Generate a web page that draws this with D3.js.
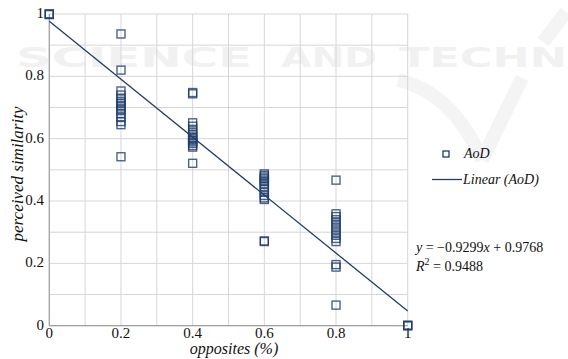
<!DOCTYPE html>
<meta charset="utf-8">
<html>
<head>
	<script src="https://d3js.org/d3.v7.min.js"></script>
	<style>
		body { margin: 0; background: #fff; }
		.serif { font-family: "Liberation Serif"; }
	</style>
</head>
<body>
	<div id="chart"></div>
	<script>
	// measured values, one array per "opposites" level
	var oppositeLevels = [0, 0.2, 0.4, 0.6, 0.8, 1];
	var simAt00 = [1, 1, 0.998];
	var simAt02 = [0.936, 0.82, 0.753, 0.74, 0.73, 0.72, 0.712, 0.705, 0.698, 0.69, 0.68, 0.668, 0.655, 0.645, 0.542];
	var simAt04 = [0.748, 0.744, 0.651, 0.64, 0.63, 0.62, 0.612, 0.605, 0.6, 0.595, 0.59, 0.585, 0.578, 0.573, 0.521];
	var simAt06 = [0.487, 0.482, 0.477, 0.472, 0.467, 0.462, 0.455, 0.447, 0.438, 0.428, 0.418, 0.41, 0.405, 0.272, 0.27];
	var simAt08 = [0.467, 0.359, 0.35, 0.34, 0.33, 0.32, 0.31, 0.3, 0.29, 0.28, 0.27, 0.196, 0.188, 0.066];
	var simAt10 = [0, 0, 0.002];
	var simByLevel = [simAt00, simAt02, simAt04, simAt06, simAt08, simAt10];

	var xTicks = [0, 0.2, 0.4, 0.6, 0.8, 1];
	var yTicks = [0, 0.2, 0.4, 0.6, 0.8, 1];
	var xTickLabels = ["0", "0.2", "0.4", "0.6", "0.8", "1"];
	var yTickLabels = ["0", "0.2", "0.4", "0.6", "0.8", "1"];
	var gridSteps = [0, 0.1, 0.2, 0.3, 0.4, 0.5, 0.6, 0.7, 0.8, 0.9, 1];

	var slope = -0.9299, intercept = 0.9768, rSquared = 0.9488;

	var svgWidth = 568, svgHeight = 359;
	var markColor = "#1f3d6d";
	var serif = "Liberation Serif";

	var x = d3.scaleLinear().domain([0, 1]).range([49.3, 407.7]);
	var y = d3.scaleLinear().domain([0, 1]).range([325.7, 14]);

	var svg = d3.select("#chart").append("svg")
		.attr("width", svgWidth)
		.attr("height", svgHeight)
		.attr("font-family", serif);

	// faint watermark in the background
	var wm = svg.append("g").attr("class", "watermark");
	wm.append("path")
		.attr("d", "M398,80 Q452,92 482,160 M522,78 L482,160 M566,12 L543,42")
		.attr("fill", "none").attr("stroke", "#f4f4f4").attr("stroke-width", 14);
	[["SCIENCE", 16, 236], ["AND", 281, 96], ["TECHN", 399, 168]].forEach(function(w) {
		wm.append("text")
			.attr("x", w[1]).attr("y", 67)
			.attr("textLength", w[2]).attr("lengthAdjust", "spacingAndGlyphs")
			.attr("font-family", "DejaVu Sans").attr("font-weight", "bold")
			.attr("font-size", 27).attr("fill", "#f1f1f1")
			.text(w[0]);
	});

	// grid
	var grid = svg.append("g").attr("class", "grid");
	grid.selectAll(".vgrid").data(gridSteps).enter().append("line")
		.attr("x1", function(d) { return x(d); }).attr("x2", function(d) { return x(d); })
		.attr("y1", y(1)).attr("y2", y(0))
		.attr("stroke", "#d6d6d6").attr("stroke-width", 1);
	grid.selectAll(".hgrid").data(gridSteps).enter().append("line")
		.attr("x1", x(0)).attr("x2", x(1))
		.attr("y1", function(d) { return y(d); }).attr("y2", function(d) { return y(d); })
		.attr("stroke", "#d6d6d6").attr("stroke-width", 1);

	// axes
	svg.append("line").attr("x1", x(0)).attr("x2", x(0)).attr("y1", y(1)).attr("y2", y(0))
		.attr("stroke", "#a0a0a0").attr("stroke-width", 1.2);
	svg.append("line").attr("x1", x(0)).attr("x2", x(1)).attr("y1", y(0)).attr("y2", y(0))
		.attr("stroke", "#a0a0a0").attr("stroke-width", 1.2);

	svg.selectAll(".ylab").data(yTicks).enter().append("text")
		.attr("class", "serif")
		.attr("x", 44).attr("y", function(d) { return y(d) + 4; })
		.attr("text-anchor", "end")
		.attr("fill", "#111")
		.attr("font-family", serif).attr("font-size", 15)
		.text(function(d, i) { return yTickLabels[i]; });

	svg.selectAll(".xlab").data(xTicks).enter().append("text")
		.attr("class", "serif")
		.attr("x", function(d) { return x(d); }).attr("y", 338)
		.attr("text-anchor", "middle")
		.attr("fill", "#111")
		.attr("font-family", serif).attr("font-size", 15)
		.text(function(d, i) { return xTickLabels[i]; });

	svg.append("text")
		.attr("class", "serif")
		.attr("x", 234).attr("y", 354)
		.attr("text-anchor", "middle")
		.attr("fill", "#111")
		.attr("font-family", serif).attr("font-size", 16).attr("font-style", "italic")
		.text("opposites (%)");

	svg.append("text")
		.attr("class", "serif")
		.attr("transform", "translate(23,174) rotate(-90)")
		.attr("text-anchor", "middle")
		.attr("fill", "#111")
		.attr("font-family", serif).attr("font-size", 17).attr("font-style", "italic")
		.text("perceived similarity");

	// trend line
	var trend = d3.line()
		.x(function(d) { return x(d); })
		.y(function(d) { return y(slope * d + intercept); });
	svg.append("path")
		.datum([0, 1])
		.attr("d", trend)
		.attr("fill", "none")
		.attr("stroke", markColor)
		.attr("stroke-width", 1.3);

	// points
	var points = [];
	oppositeLevels.forEach(function(lv, i) {
		simByLevel[i].forEach(function(v) { points.push({x: lv, y: v}); });
	});
	var sq = 8;
	svg.append("g").selectAll("rect").data(points).enter().append("rect")
		.attr("x", function(d) { return x(d.x) - sq / 2; })
		.attr("y", function(d) { return y(d.y) - sq / 2; })
		.attr("width", sq).attr("height", sq)
		.attr("fill", "none")
		.attr("stroke", markColor)
		.attr("stroke-opacity", 0.8)
		.attr("stroke-width", 1.4);

	// legend
	var legend = svg.append("g").attr("font-family", serif).attr("font-size", 14).attr("fill", "#111");
	legend.append("rect")
		.attr("x", 443).attr("y", 151).attr("width", 6).attr("height", 6)
		.attr("fill", "none").attr("stroke", markColor).attr("stroke-width", 1.3);
	legend.append("text").attr("class", "serif").attr("x", 464).attr("y", 158)
		.attr("font-style", "italic").text("AoD");
	legend.append("line").attr("x1", 432).attr("x2", 462).attr("y1", 179.5).attr("y2", 179.5)
		.attr("stroke", markColor).attr("stroke-width", 1.3);
	legend.append("text").attr("class", "serif").attr("x", 463).attr("y", 184)
		.attr("font-style", "italic").text("Linear (AoD)");

	// regression equation
	var eq = svg.append("text").attr("class", "serif").attr("x", 416).attr("y", 252)
		.attr("fill", "#111").attr("font-family", serif).attr("font-size", 14);
	eq.append("tspan").attr("font-style", "italic").text("y");
	eq.append("tspan").text(" = \u22120.9299");
	eq.append("tspan").attr("font-style", "italic").text("x");
	eq.append("tspan").text(" + 0.9768");

	var r2 = svg.append("text").attr("class", "serif").attr("x", 416).attr("y", 271)
		.attr("fill", "#111").attr("font-family", serif).attr("font-size", 14);
	r2.append("tspan").attr("font-style", "italic").text("R");
	r2.append("tspan").attr("dy", -6).attr("font-size", 10).text("2");
	r2.append("tspan").attr("dy", 6).text(" = " + rSquared);
	</script>
</body>
</html>
